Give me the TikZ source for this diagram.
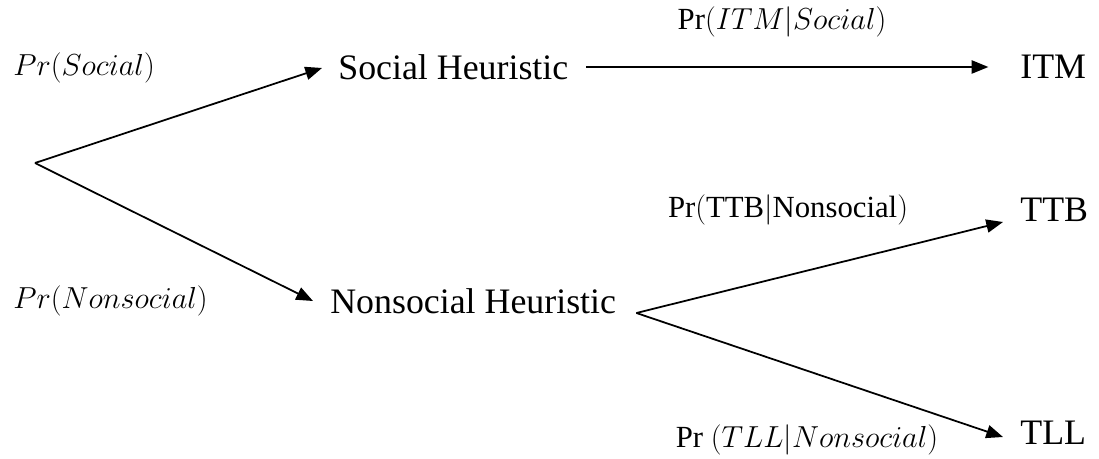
\documentclass[tikz,border=0pt]{standalone}
\usepackage{amsmath}
\usepackage{fontspec}
\setmainfont{Liberation Serif}
\usepackage{tikz}
\usetikzlibrary{arrows.meta, positioning, calc}

\begin{document}
\begin{tikzpicture}[
  x=0.02cm, y=-0.02cm,
  heur/.style={font=\fontsize{20.4}{24}\selectfont, inner sep=0pt},
  prob/.style={font=\fontsize{17.5}{20}\selectfont, inner sep=0pt},
  arr/.style={-{Triangle[length=9.5pt, width=7.5pt]}, line width=1pt, black},
]
\useasboundingbox (0,0) rectangle (1099,459);
% first choice: social or nonsocial
\coordinate (root) at (35,163);
\node[heur, anchor=west] (soc) at (338,67) {Social Heuristic};
\node[heur, anchor=west] (nons) at (330,301) {Nonsocial Heuristic};
\node[prob, anchor=west] (psoc) at (13,68) {$Pr(Social)$};
\node[prob, anchor=west] (pnons) at (13,301) {$Pr(Nonsocial)$};
\draw[arr] (root) -- ([shift={(-16,1)}]soc.west);
\draw[arr] (root) -- ([shift={(-17,0)}]nons.west);
% second choice: the strategy within each heuristic
\node[heur, anchor=west] (itm) at (1020,67) {ITM};
\node[heur, anchor=west] (ttb) at (1020,210) {TTB};
\node[heur, anchor=west] (tll) at (1020,433) {TLL};
\coordinate (split) at ([shift={(20,12)}]nons.east);
\draw[arr] ([xshift=10]soc.east) -- ([xshift=-18]itm.west);
\draw[arr] (split) -- ([shift={(-17,12)}]ttb.west);
\draw[arr] (split) -- ([shift={(-17,4)}]tll.west);
\node[prob] (pitm) at (782,22) {$\mathrm{Pr}(ITM|Social)$};
\node[prob] (pttb) at (788,210) {$\mathrm{Pr}(\mathrm{TTB}|\mathrm{Nonsocial})$};
\node[prob] (ptll) at (807,440) {$\mathrm{Pr}\ (TLL|Nonsocial)$};
\end{tikzpicture}
\end{document}
